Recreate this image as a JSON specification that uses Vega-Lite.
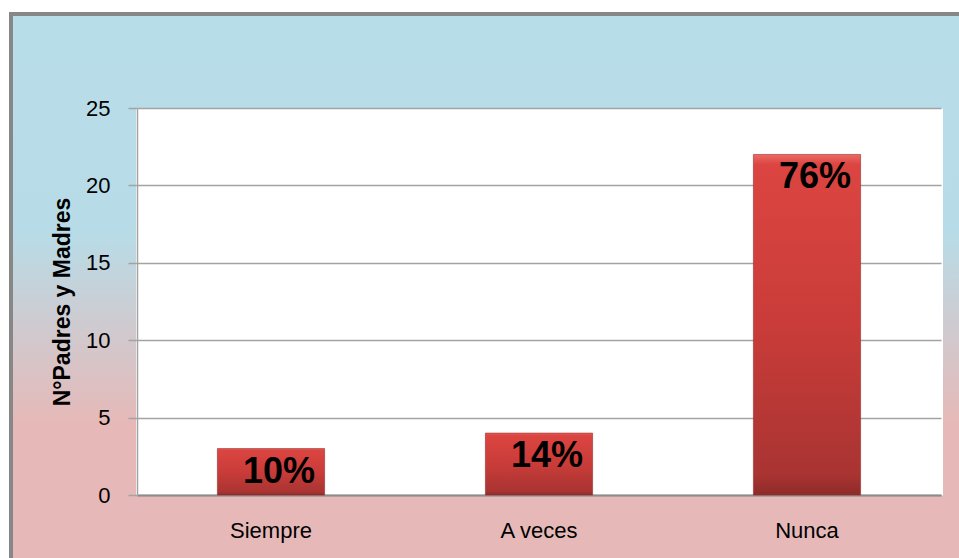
{
  "$schema": "https://vega.github.io/schema/vega-lite/v6.json",
  "autosize": {"type": "none"},
  "padding": {"left": 11, "top": 14, "right": -3, "bottom": -31},
  "width": 951,
  "height": 575,
  "background": "#ffffff",
  "config": {
    "view": {
      "fill": {
        "gradient": "linear",
        "x1": 0, "y1": 0, "x2": 0, "y2": 1,
        "stops": [
          {"offset": 0, "color": "#b7dde8"},
          {"offset": 0.38, "color": "#b8dce7"},
          {"offset": 0.71, "color": "#e6b9b8"},
          {"offset": 1, "color": "#e6b9b8"}
        ]
      },
      "stroke": "#878787",
      "strokeWidth": 4
    }
  },
  "data": {
    "values": [
      {"respuesta": "Siempre", "n": 3, "pct": "10%"},
      {"respuesta": "A veces", "n": 4, "pct": "14%"},
      {"respuesta": "Nunca", "n": 22, "pct": "76%"}
    ]
  },
  "encoding": {
    "x": {
      "field": "respuesta",
      "type": "nominal",
      "sort": null,
      "scale": {"range": [126, 930], "paddingInner": 0.6, "paddingOuter": 0.3},
      "axis": {
        "orient": "bottom",
        "offset": -94,
        "zindex": 0,
        "title": null,
        "labelAngle": 0,
        "bandPosition": 0.5,
        "grid": true,
        "gridColor": "#ffffff",
        "gridWidth": 271,
        "gridOpacity": 1,
        "ticks": false,
        "tickSize": 0,
        "domain": true,
        "domainColor": "#8c8c8c",
        "domainWidth": 2,
        "labelFont": "Liberation Sans",
        "labelFontSize": 22,
        "labelColor": "#000000",
        "labelPadding": 25
      }
    },
    "y": {
      "field": "n",
      "type": "quantitative",
      "scale": {"domain": [0, 25], "nice": false, "range": [481, 94]},
      "axis": {
        "orient": "left",
        "offset": -126,
        "zindex": 0,
        "values": [0, 5, 10, 15, 20, 25],
        "grid": true,
        "gridColor": "#a3a3a3",
        "gridWidth": 1.5,
        "ticks": true,
        "tickSize": 9,
        "tickColor": "#a3a3a3",
        "tickWidth": 1.5,
        "domain": true,
        "domainColor": "#a3a3a3",
        "domainWidth": 1.5,
        "labelFont": "Liberation Sans",
        "labelFontSize": 22,
        "labelColor": "#000000",
        "labelPadding": 18,
        "title": "N°Padres y Madres",
        "titleFont": "Liberation Sans",
        "titleFontSize": 23,
        "titleFontWeight": "bold",
        "titleColor": "#000000",
        "titlePadding": 11
      }
    }
  },
  "layer": [
    {
      "mark": {
        "type": "bar",
        "fill": {
          "gradient": "linear",
          "x1": 0, "y1": 0, "x2": 0, "y2": 1,
          "stops": [
            {"offset": 0, "color": "#ec6a64"},
            {"offset": 0.03, "color": "#dc4541"},
            {"offset": 0.5, "color": "#c93c39"},
            {"offset": 0.94, "color": "#a93432"},
            {"offset": 1, "color": "#8e2b29"}
          ]
        },
        "stroke": "#922d2b",
        "strokeWidth": 0.6
      }
    },
    {
      "mark": {
        "type": "text",
        "font": "Liberation Sans",
        "fontWeight": "bold",
        "fontSize": 36,
        "baseline": "top",
        "dy": 6,
        "dx": 8,
        "color": "#000000"
      },
      "encoding": {"text": {"field": "pct"}}
    }
  ]
}
